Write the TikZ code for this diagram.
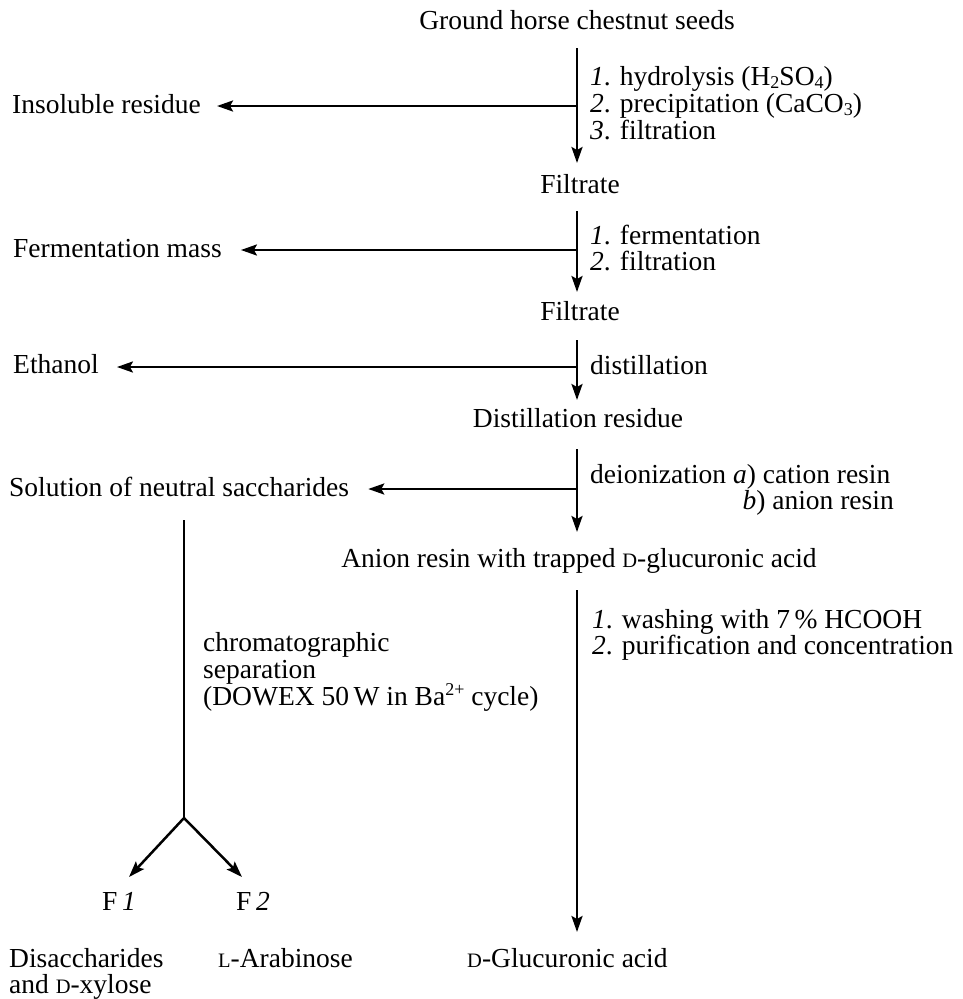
\documentclass[tikz,border=0pt]{standalone}
\usepackage{fontspec}
\setmainfont{Liberation Serif}
\usetikzlibrary{arrows.meta}
\newcommand{\scD}{{\fontsize{20.5}{20.5}\selectfont D}}
\newcommand{\scL}{{\fontsize{20.5}{20.5}\selectfont L}}
\newcommand{\chsub}[1]{\raisebox{-0.25ex}{\fontsize{18}{18}\selectfont #1}}
\newcommand{\chsup}[1]{\raisebox{0.75ex}{\fontsize{18}{18}\selectfont #1}}
\begin{document}
\begin{tikzpicture}[x=1pt,y=-1pt,
  txt/.style={inner sep=0pt, font=\fontsize{27.5}{25}\selectfont},
  arr/.style={line width=2.5pt, -{Stealth[length=16pt,width=11pt,inset=3pt]}},
  ln/.style={line width=2.5pt}]
\useasboundingbox (0,0) rectangle (962,999);

% main column
\node[txt, anchor=base] (seeds) at (577,29) {Ground horse chestnut seeds};
\node[txt, anchor=base] (filt1) at (580,193) {Filtrate};
\node[txt, anchor=base] (filt2) at (580,320) {Filtrate};
\node[txt, anchor=base] (dres) at (578,427) {Distillation residue};
\node[txt, anchor=base] (anion) at (579,567) {Anion resin with trapped \scD-glucuronic acid};
\node[txt, anchor=base west] (glc) at (467,967) {\scD-Glucuronic acid};

% side products
\node[txt, anchor=base west] (ins) at (12,113) {Insoluble residue};
\node[txt, anchor=base west] (ferm) at (13,257) {Fermentation mass};
\node[txt, anchor=base west] (eth) at (13,373) {Ethanol};
\node[txt, anchor=base west] (sol) at (9,496) {Solution of neutral saccharides};

% step labels
\node[txt, anchor=base west] (s1a) at (590,85) {\textit{1}. hydrolysis (H\chsub{2}SO\chsub{4})};
\node[txt, anchor=base west] (s1b) at (590,112) {\textit{2}. precipitation (CaCO\chsub{3})};
\node[txt, anchor=base west] (s1c) at (590,139) {\textit{3}. filtration};
\node[txt, anchor=base west] (s2a) at (590,244) {\textit{1}. fermentation};
\node[txt, anchor=base west] (s2b) at (590,270) {\textit{2}. filtration};
\node[txt, anchor=base west] (s3) at (590,374) {distillation};
\node[txt, anchor=base west] (s4a) at (590,483) {deionization \textit{a}) cation resin};
\node[txt, anchor=base east] (s4b) at (894,509) {\textit{b}) anion resin};
\node[txt, anchor=base west] (s5a) at (592,628) {\textit{1}. washing with 7\,\% HCOOH};
\node[txt, anchor=base west] (s5b) at (592,654) {\textit{2}. purification and concentration};

% chromatography branch
\node[txt, anchor=base west] (c1) at (203,651) {chromatographic};
\node[txt, anchor=base west] (c2) at (203,678) {separation};
\node[txt, anchor=base west] (c3) at (203,705) {(DOWEX 50\,W in Ba\chsup{2+} cycle)};
\node[txt, anchor=base] (f1) at (119,910) {F\,\textit{1}};
\node[txt, anchor=base] (f2) at (253,910) {F\,\textit{2}};
\node[txt, anchor=base west] (dis1) at (9,967) {Disaccharides};
\node[txt, anchor=base west] (dis2) at (9,993) {and \scD-xylose};
\node[txt, anchor=base west] (ara) at (218,967) {\scL-Arabinose};

% coordinates
\coordinate (v1t) at (577,48);  \coordinate (v1b) at (577,163); \coordinate (j1) at (577,106);
\coordinate (v2t) at (577,211); \coordinate (v2b) at (577,292); \coordinate (j2) at (577,250);
\coordinate (v3t) at (577,340); \coordinate (v3b) at (577,400); \coordinate (j3) at (577,367);
\coordinate (v4t) at (577,449); \coordinate (v4b) at (577,532); \coordinate (j4) at (577,489);
\coordinate (v5t) at (577,590); \coordinate (v5b) at (577,932);
\coordinate (lvt) at (184,520); \coordinate (br) at (184,818);
\coordinate (f1tip) at (129,877); \coordinate (f2tip) at (242,877);

% connectors
\draw[arr] (v1t) -- (v1b);
\draw[arr] (j1) -- ([xshift=16pt]ins.east |- j1);
\draw[arr] (v2t) -- (v2b);
\draw[arr] (j2) -- ([xshift=19pt]ferm.east |- j2);
\draw[arr] (v3t) -- (v3b);
\draw[arr] (j3) -- ([xshift=18pt]eth.east |- j3);
\draw[arr] (v4t) -- (v4b);
\draw[arr] (j4) -- ([xshift=19pt]sol.east |- j4);
\draw[arr] (v5t) -- (v5b);
\draw[ln] (lvt) -- (br);
\draw[arr] (br) -- (f1tip);
\draw[arr] (br) -- (f2tip);
\end{tikzpicture}
\end{document}
